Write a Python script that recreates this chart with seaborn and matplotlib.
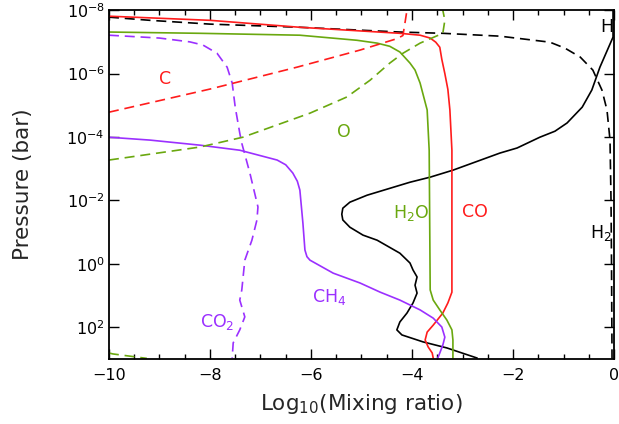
import numpy as np
import pandas as pd
import matplotlib
matplotlib.use("Agg")
import matplotlib.pyplot as plt
import seaborn as sns
from matplotlib.ticker import FixedLocator, MultipleLocator, FuncFormatter, NullLocator

sns.set_theme(style="ticks")
plt.rcParams["font.family"] = ["DejaVu Sans"]
plt.rcParams["mathtext.fontset"] = "dejavusans"

RED = "#ff1c1c"
GREEN = "#6aa80f"
PURPLE = "#9b30ff"
BLACK = "#000000"

# Each profile: log10 mixing ratio (x) and log10 pressure in bar (p)
h2_x = [-10.0, -9.19, -8.0, -6.22, -4.24, -3.39, -2.26, -1.27, -0.97, -0.67, -0.42, -0.24, -0.14, -0.08, -0.06, -0.05, -0.04]
h2_p = [-7.78, -7.68, -7.56, -7.46, -7.31, -7.27, -7.18, -6.99, -6.80, -6.52, -6.11, -5.48, -4.85, -3.90, -2.0, 0.0, 3.0]

h_x = [-0.02, -0.02, -0.28, -0.44, -0.63, -0.93, -1.17, -1.47, -1.92, -2.26, -3.19, -3.64, -4.04, -4.89,
       -5.23, -5.37, -5.39, -5.37, -5.23, -4.97, -4.69, -4.24, -4.04, -3.98, -3.90, -3.94, -3.90, -3.98,
       -4.10, -4.24, -4.30, -4.20, -3.78, -3.31, -2.71]
h_p = [-8.0, -7.15, -6.20, -5.48, -4.94, -4.44, -4.18, -3.99, -3.65, -3.49, -2.95, -2.73, -2.57, -2.16,
       -1.94, -1.75, -1.56, -1.38, -1.15, -0.90, -0.74, -0.33, -0.02, 0.20, 0.42, 0.68, 0.93, 1.24,
       1.56, 1.84, 2.09, 2.25, 2.47, 2.66, 2.98]

co_x = [-10.0, -8.0, -6.22, -4.24, -3.84, -3.64, -3.53, -3.45, -3.41, -3.35, -3.29, -3.25, -3.21, -3.21,
        -3.29, -3.39, -3.58, -3.70, -3.74, -3.68, -3.60, -3.58]
co_p = [-7.81, -7.68, -7.46, -7.27, -7.21, -7.12, -6.99, -6.83, -6.45, -6.0, -5.5, -4.85, -3.58, 0.90,
        1.24, 1.56, 1.94, 2.16, 2.41, 2.63, 2.82, 2.98]

h2o_x = [-10.0, -8.2, -6.22, -5.09, -4.69, -4.44, -4.24, -4.04, -3.94, -3.84, -3.70, -3.66, -3.64,
         -3.58, -3.45, -3.31, -3.21, -3.19, -3.19]
h2o_p = [-7.31, -7.27, -7.21, -7.05, -6.96, -6.86, -6.68, -6.33, -6.11, -5.70, -4.85, -3.58, 0.83,
         1.15, 1.46, 1.78, 2.09, 2.41, 2.98]

ch4_x = [-10.0, -9.19, -8.20, -7.41, -6.67, -6.50, -6.36, -6.27, -6.22, -6.16, -6.12, -6.08, -6.02,
         -5.56, -5.03, -4.63, -4.24, -3.84, -3.58, -3.41, -3.35, -3.39, -3.45, -3.49]
ch4_p = [-3.99, -3.90, -3.74, -3.58, -3.27, -3.12, -2.86, -2.60, -2.32, -1.28, -0.43, -0.22, -0.11,
         0.30, 0.61, 0.90, 1.15, 1.46, 1.72, 2.0, 2.32, 2.57, 2.82, 2.98]

co2_x = [-10.0, -9.0, -8.4, -8.14, -7.86, -7.66, -7.56, -7.50, -7.41, -7.37, -7.21, -7.05, -7.07,
         -7.17, -7.31, -7.37, -7.41, -7.31, -7.41, -7.54, -7.56]
co2_p = [-7.21, -7.12, -7.0, -6.90, -6.64, -6.20, -5.70, -4.94, -4.12, -3.80, -2.86, -1.79, -1.38,
         -0.74, -0.11, 0.83, 1.15, 1.68, 2.09, 2.50, 2.98]

c_x = [-10.0, -8.0, -6.28, -5.03, -4.30, -4.18, -4.14, -4.10]
c_p = [-4.78, -5.51, -6.20, -6.74, -7.10, -7.20, -7.59, -8.0]

o_x = [-10.0, -8.20, -7.35, -6.02, -5.29, -4.83, -4.44, -4.18, -3.84, -3.39, -3.35, -3.39]
o_p = [-3.27, -3.68, -3.99, -4.75, -5.26, -5.79, -6.33, -6.64, -6.96, -7.27, -7.68, -8.0]
o_deep_x = [-10.0, -9.92, -9.25]
o_deep_p = [2.82, 2.85, 2.99]

# species labels: text, x, log10 pressure of baseline, colour
label_text = ["C", "O", "H$_2$O", "CO", "CH$_4$", "CO$_2$", "H$_2$", "H"]
label_x = [-9.01, -5.49, -4.38, -3.01, -5.98, -8.20, -0.475, -0.28]
label_p = [-5.67, -3.99, -1.44, -1.47, 1.21, 2.0, -0.81, -7.31]
label_color = [RED, GREEN, GREEN, RED, PURPLE, PURPLE, BLACK, BLACK]

fig = plt.figure(figsize=(6.19, 4.24), dpi=100)
ax = fig.add_axes([0.176, 0.154, 0.816, 0.822])
ax.set_yscale("log")

DASH = (0, (6, 3.5))
profiles = [
    (h2_x, h2_p, BLACK, DASH),
    (h_x, h_p, BLACK, "-"),
    (co_x, co_p, RED, "-"),
    (h2o_x, h2o_p, GREEN, "-"),
    (ch4_x, ch4_p, PURPLE, "-"),
    (co2_x, co2_p, PURPLE, DASH),
    (c_x, c_p, RED, DASH),
    (o_x, o_p, GREEN, DASH),
    (o_deep_x, o_deep_p, GREEN, DASH),
]
for xs, ps, col, ls in profiles:
    df = pd.DataFrame({"logx": xs, "pressure": 10.0 ** np.asarray(ps)})
    sns.lineplot(data=df, x="logx", y="pressure", sort=False, estimator=None,
                 color=col, linestyle=ls, linewidth=1.2, ax=ax)

for t, x, p, col in zip(label_text, label_x, label_p, label_color):
    ax.text(x, 10.0 ** p, t, color=col, fontsize=12.5, ha="left", va="baseline")

ax.set_xlim(-10, 0)
ax.set_ylim(1e3, 1e-8)
ax.xaxis.set_major_locator(MultipleLocator(2))
ax.xaxis.set_minor_locator(MultipleLocator(0.5))
ax.yaxis.set_major_locator(FixedLocator([10.0 ** k for k in range(-8, 3, 2)]))
ax.yaxis.set_minor_locator(NullLocator())
ax.yaxis.set_major_formatter(FuncFormatter(lambda v, pos: r"$10^{%d}$" % round(np.log10(v))))

ax.tick_params(which="both", direction="in", top=True, right=True, colors="black",
               labelsize=11.5, width=1.0)
ax.tick_params(which="major", length=7)
ax.tick_params(which="minor", length=3.5)
ax.tick_params(axis="x", pad=7)
ax.tick_params(axis="y", pad=3)
for s in ax.spines.values():
    s.set_linewidth(1.3)
    s.set_color("black")

ax.set_xlabel("Log$_{10}$(Mixing ratio)", fontsize=15.5, labelpad=6)
ax.set_ylabel("Pressure (bar)", fontsize=15.5, labelpad=24)

fig.savefig("out.png", dpi=100)
